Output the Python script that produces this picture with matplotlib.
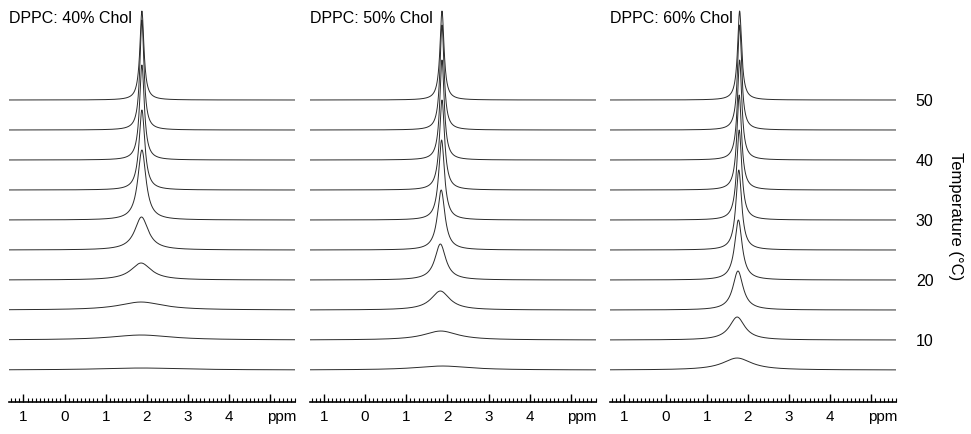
import numpy as np
import matplotlib
matplotlib.use("Agg")
import matplotlib.pyplot as plt
import matplotlib.transforms as mtransforms
from matplotlib.ticker import MultipleLocator


plt.rcParams.update({"font.family": ["Liberation Sans", "DejaVu Sans"]})


# temperatures of the stacked traces, top to bottom (deg C)
temps = [50, 45, 40, 35, 30, 25, 20, 15, 10, 5]
temp_labels = [50, 40, 30, 20, 10]

titles = ["DPPC: 40% Chol", "DPPC: 50% Chol", "DPPC: 60% Chol"]

# peak position (ppm), peak height (a.u.) and line width (ppm, FWHM) per trace
chol40_pos = [1.88, 1.88, 1.88, 1.88, 1.88, 1.87, 1.86, 1.86, 1.86, 1.88]
chol40_height = [89, 110, 95, 80, 70, 33, 17, 8, 5, 2]
chol40_width = [0.12, 0.12, 0.14, 0.17, 0.24, 0.4, 0.6, 1.3, 1.8, 2.5]

chol50_pos = [1.87, 1.87, 1.87, 1.87, 1.86, 1.85, 1.83, 1.83, 1.84, 1.88]
chol50_height = [89, 105, 100, 90, 80, 60, 36, 19, 9, 4]
chol50_width = [0.12, 0.12, 0.13, 0.15, 0.17, 0.22, 0.32, 0.55, 1.0, 1.6]

chol60_pos = [1.80, 1.80, 1.80, 1.79, 1.79, 1.78, 1.77, 1.76, 1.74, 1.74]
chol60_height = [89, 105, 100, 95, 90, 80, 60, 39, 23, 12]
chol60_width = [0.12, 0.12, 0.13, 0.14, 0.15, 0.17, 0.22, 0.3, 0.45, 0.85]

panels = [(chol40_pos, chol40_height, chol40_width),
          (chol50_pos, chol50_height, chol50_width),
          (chol60_pos, chol60_height, chol60_width)]

tick_pos = [-1, 0, 1, 2, 3, 4, 5]
tick_text = ["1", "0", "1", "2", "3", "4", ""]

ppm = np.linspace(-1.35, 5.6, 1400)
scale = 1 / 6.0  # intensity units -> temperature offset units


def lorentz(x, x0, h, w):
    return h / (1 + ((x - x0) / (w / 2)) ** 2)


fig = plt.figure(figsize=(9.71, 4.35), dpi=100)
lefts = [9 / 971, 309.5 / 971, 610 / 971]

for left, title, (pos, height, width) in zip(lefts, titles, panels):
    ax = fig.add_axes([left, 32 / 435, 286 / 971, 398 / 435])
    for T, c, h, w in zip(temps, pos, height, width):
        ax.plot(ppm, T + lorentz(ppm, c, h, w) * scale,
                color="#2a2a2a", lw=0.7)

    ax.set_xlim(-1.35, 5.6)
    ax.set_ylim(-0.33, 66)
    for side in ["left", "top", "right"]:
        ax.spines[side].set_visible(False)
    ax.spines["bottom"].set_linewidth(1.2)
    ax.set_yticks([])
    ax.set_xticks(tick_pos)
    ax.set_xticklabels(tick_text)
    ax.xaxis.set_minor_locator(MultipleLocator(0.1))
    ax.tick_params(axis="x", which="major", direction="in", length=6,
                   width=1, pad=5, labelsize=11)
    ax.tick_params(axis="x", which="minor", direction="in", length=3,
                   width=0.8)
    ax.text(5.27, -0.017, "ppm", transform=ax.get_xaxis_transform(),
            ha="center", va="top", fontsize=11)
    ax.text(0.0, 0.966, title, transform=ax.transAxes,
            ha="left", va="center", fontsize=11.5)

trans = mtransforms.blended_transform_factory(ax.transAxes, ax.transData)
for T in temp_labels:
    ax.text(1.10, T, str(T), transform=trans, ha="center", va="center",
            fontsize=11.5)

fig.text(955 / 971, 1 - 216 / 435, "Temperature (°C)", rotation=-90,
         ha="center", va="center", fontsize=12)

fig.savefig("out.png", dpi=100)
